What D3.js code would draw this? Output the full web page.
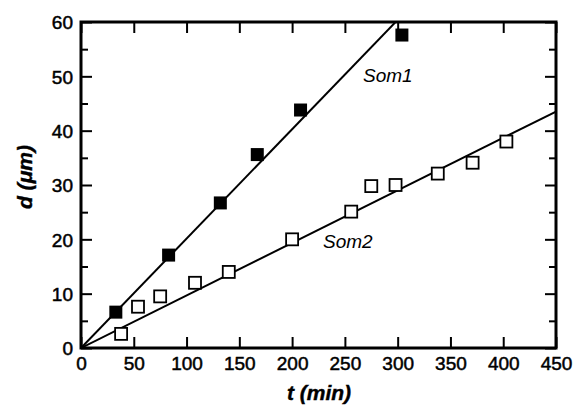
<!DOCTYPE html>
<html><head><meta charset="utf-8">
<script src="https://cdn.jsdelivr.net/npm/d3@7"></script>
<style>body{margin:0;background:#fff}svg{display:block}text{font-family:"Liberation Sans",Arial,sans-serif;fill:#000}</style>
</head><body><svg id="c" width="574" height="412"></svg>
<script>
const som1T = [33, 83, 132, 167, 208, 304];
const som1D = [6.6, 17.1, 26.7, 35.6, 43.8, 57.6];
const som2T = [38, 54, 75, 108, 140, 200, 256, 275, 298, 338, 371, 403];
const som2D = [2.6, 7.6, 9.5, 12.0, 14.0, 20.0, 25.1, 29.8, 30.0, 32.1, 34.1, 38.0];
const som1Slope = 0.2013;
const som2Slope = 0.0967;
const xTicks = [0, 50, 100, 150, 200, 250, 300, 350, 400, 450];
const yTicks = [0, 10, 20, 30, 40, 50, 60];
const yMinor = [5, 15, 25, 35, 45, 55];

(function () {
const svg = d3.select("#c");
const L = 81, R = 556, T = 22, B = 348;
const x = d3.scaleLinear().domain([0, 450]).range([L, R]);
const y = d3.scaleLinear().domain([0, 60]).range([B, T]);

svg.append("clipPath").attr("id", "cp").append("rect")
  .attr("x", L).attr("y", T).attr("width", R - L).attr("height", B - T);

// fitted lines
[som1Slope, som2Slope].forEach(s => {
  svg.append("line").attr("clip-path", "url(#cp)")
    .attr("x1", x(0)).attr("y1", y(0))
    .attr("x2", x(450)).attr("y2", y(s * 450))
    .attr("stroke", "#000").attr("stroke-width", 2);
});

// axes
const g = svg.append("g");
const axB = d3.axisBottom(x).tickValues(xTicks).tickSizeInner(-11).tickSizeOuter(0);
const gb = g.append("g").attr("transform", `translate(0,${B})`).call(axB);
const axT = d3.axisTop(x).tickValues(xTicks).tickSizeInner(-11).tickSizeOuter(0).tickFormat("");
const gt = g.append("g").attr("transform", `translate(0,${T})`).call(axT);
const axL = d3.axisLeft(y).tickValues(yTicks).tickSizeInner(-11).tickSizeOuter(0);
const gl = g.append("g").attr("transform", `translate(${L},0)`).call(axL);
const axR = d3.axisRight(y).tickValues(yTicks).tickSizeInner(-11).tickSizeOuter(0).tickFormat("");
const gr = g.append("g").attr("transform", `translate(${R},0)`).call(axR);
const axLm = d3.axisLeft(y).tickValues(yMinor).tickSizeInner(-7).tickSizeOuter(0).tickFormat("");
const glm = g.append("g").attr("transform", `translate(${L},0)`).call(axLm);
const axRm = d3.axisRight(y).tickValues(yMinor).tickSizeInner(-7).tickSizeOuter(0).tickFormat("");
const grm = g.append("g").attr("transform", `translate(${R},0)`).call(axRm);

[gb, gt, gl, gr, glm, grm].forEach(a => {
  a.select(".domain").remove();
  a.selectAll(".tick line").attr("stroke", "#000").attr("stroke-width", 2);
  a.selectAll("text").attr("font-size", 19).attr("fill", "#000")
    .attr("stroke", "#000").attr("stroke-width", 0.5)
    .style("font-family", "'Liberation Sans',Arial,sans-serif");
});
gb.selectAll(".tick text").attr("y", 9).attr("dy", "0.71em");
gl.selectAll(".tick text").attr("x", -8).attr("dy", "0.36em");

// frame
svg.append("rect").attr("x", L).attr("y", T).attr("width", R - L).attr("height", B - T)
  .attr("fill", "none").attr("stroke", "#000").attr("stroke-width", 3);

// markers
const s = 12;
svg.append("g").selectAll("rect").data(som2T.map((t, i) => [t, som2D[i]])).join("rect")
  .attr("x", d => x(d[0]) - s / 2).attr("y", d => y(d[1]) - s / 2)
  .attr("width", s).attr("height", s)
  .attr("fill", "#fff").attr("stroke", "#000").attr("stroke-width", 1.8);
svg.append("g").selectAll("rect").data(som1T.map((t, i) => [t, som1D[i]])).join("rect")
  .attr("x", d => x(d[0]) - (s + 1) / 2).attr("y", d => y(d[1]) - (s + 1) / 2)
  .attr("width", s + 1).attr("height", s + 1)
  .attr("fill", "#000");

// series labels
svg.append("text").attr("x", 363).attr("y", 82).attr("font-size", 19)
  .attr("font-style", "italic").text("Som1");
svg.append("text").attr("x", 323).attr("y", 248).attr("font-size", 19)
  .attr("font-style", "italic").text("Som2");

// axis titles
svg.append("text").attr("x", 319).attr("y", 400).attr("text-anchor", "middle")
  .attr("font-size", 21).attr("font-weight", "bold").attr("font-style", "italic")
  .attr("stroke", "#000").attr("stroke-width", 0.4).text("t (min)");
svg.append("text").attr("transform", "translate(32,177) rotate(-90)").attr("text-anchor", "middle")
  .attr("font-size", 21).attr("font-weight", "bold").attr("font-style", "italic")
  .attr("stroke", "#000").attr("stroke-width", 0.4).text("d (μm)");
})();
</script></body></html>
